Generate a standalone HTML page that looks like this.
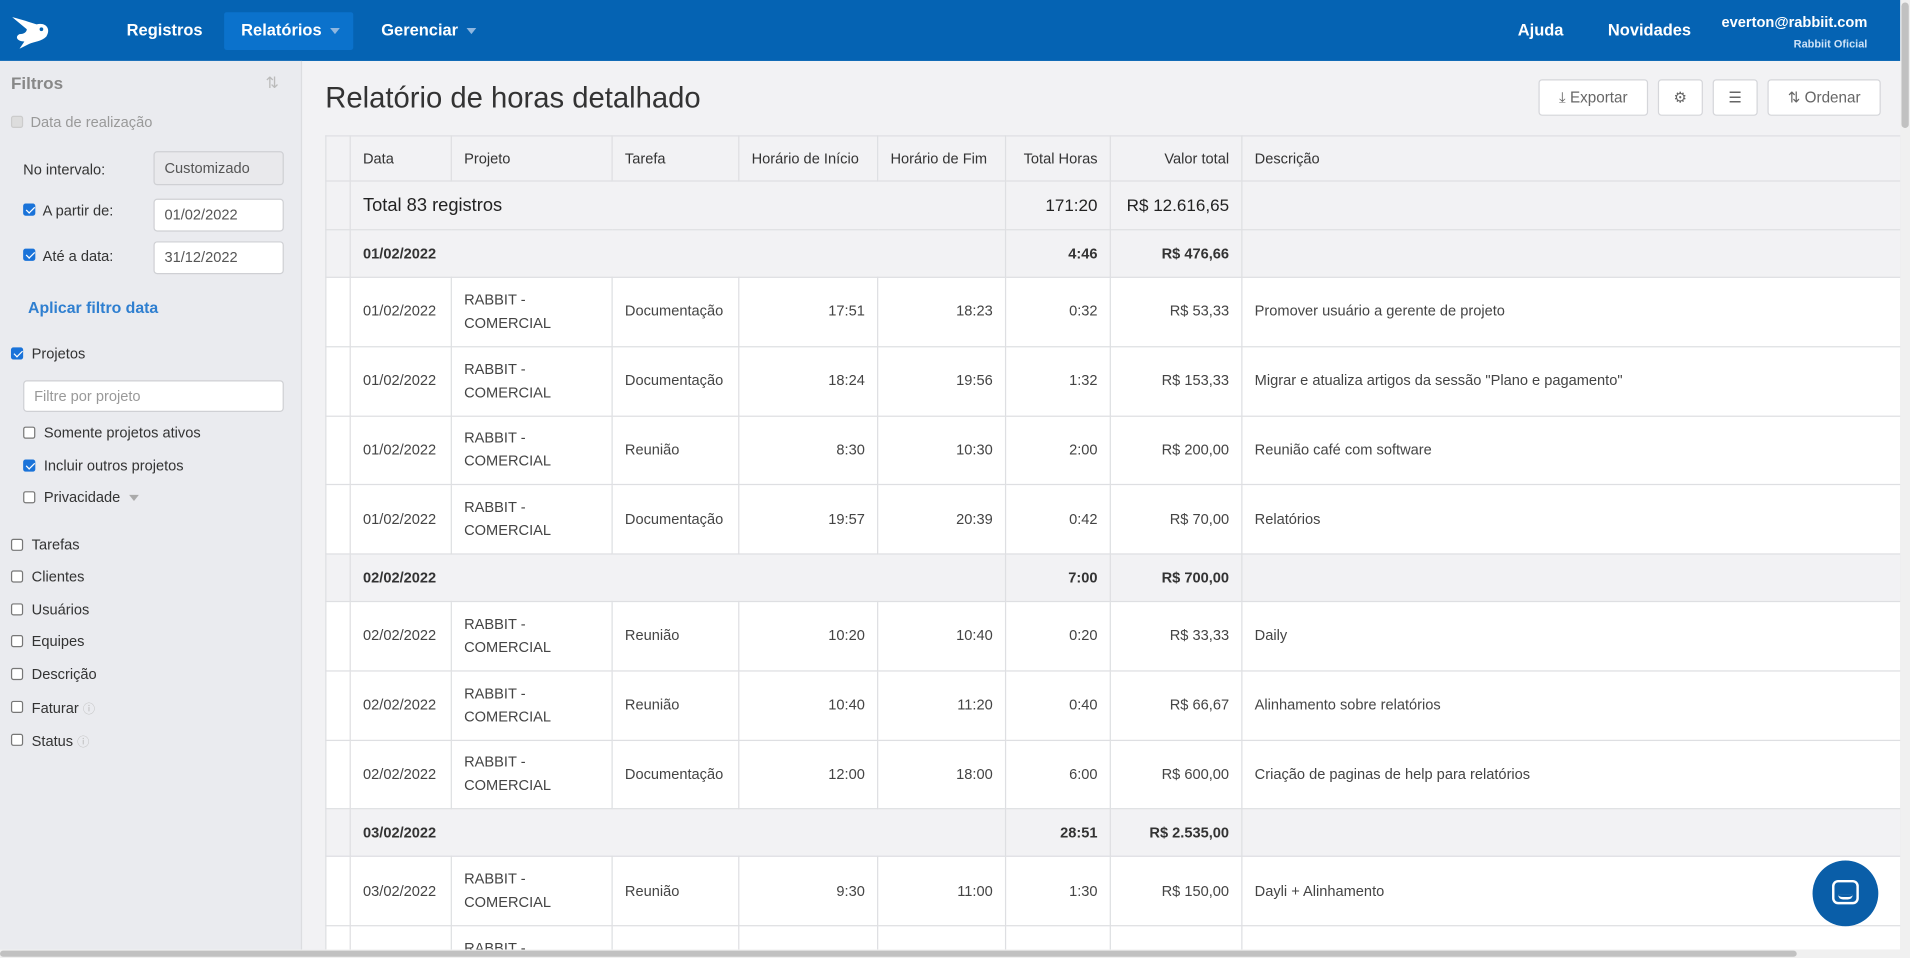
<!DOCTYPE html>
<html><head><meta charset="utf-8">
<style>
*{box-sizing:border-box;margin:0;padding:0}
html,body{width:1910px;height:958px;overflow:hidden;background:#f2f2f4}
body{font-family:"Liberation Sans",sans-serif;color:#333}
#w{position:absolute;left:0;top:0;width:1568px;height:786px;overflow:hidden;transform:scale(1.21811,1.21883);transform-origin:0 0;background:#f2f2f4}
.a{position:absolute}
#nav{left:0;top:0;width:1560px;height:50px;background:#0563b3}
.nl{color:#fff;font-weight:bold;font-size:13.5px;top:17px}
.caret{display:inline-block;border-left:4px solid transparent;border-right:4px solid transparent;border-top:5px solid #8fb7e0;margin-left:7px;vertical-align:middle}
#side{left:0;top:50px;width:248px;height:736px;background:#eaebef;border-right:1px solid #dcdde0}
.st{font-size:12px;color:#333}
.cb{display:inline-block;width:10px;height:10px;border:1px solid #777;background:#fff;border-radius:2px;position:absolute}
.cbc{background:#1a73d9;border-color:#1a73d9}
.cbc:after{content:"";position:absolute;left:2.5px;top:0px;width:3px;height:6px;border:solid #fff;border-width:0 1.5px 1.5px 0;transform:rotate(45deg)}
.inp{background:#fff;border:1px solid #cfd0d4;border-radius:3px;font-size:12px;color:#555;padding-left:8px;line-height:25px}
table{border-collapse:collapse;table-layout:fixed;font-size:12px;line-height:19px}
td{border:1px solid #dedfe2;padding:0 10px;background:#fff;color:#444;vertical-align:middle}
tr.h td{background:#f2f2f4;color:#333;height:37px}
tr.t td{background:#f2f2f4;height:40px;color:#222}
tr.g td{background:#f2f2f4;height:39px;font-weight:bold;color:#333}
tr.d td{height:56.75px}
.r{text-align:right}
.btn{background:#fff;border:1px solid #d5d6da;border-radius:3px;height:30px;top:65px;font-size:12.5px;color:#666;text-align:center;line-height:28px}
</style></head><body>
<div id="w">
<div id="nav" class="a">
 <svg class="a" style="left:8px;top:12px" width="34" height="28"><path d="M2 2 C10 4 16 6 22 8 C30 6 34 12 30 18 C26 22 20 22 16 24 L8 28 L12 22 C6 22 4 18 8 16 C12 16 14 14 14 12 Z" fill="#fff"/><circle cx="26" cy="12" r="1.5" fill="#0563b3"/></svg>
 <div class="a nl" style="left:104px">Registros</div>
 <div class="a" style="left:184px;top:10px;width:106px;height:31px;background:#0b72cc;border-radius:2px"></div>
 <div class="a nl" style="left:198px">Relatórios<span class="caret"></span></div>
 <div class="a nl" style="left:313px">Gerenciar<span class="caret"></span></div>
 <div class="a nl" style="left:1246px">Ajuda</div>
 <div class="a nl" style="left:1320px">Novidades</div>
 <div class="a" style="right:27px;top:11px;color:#fff;font-weight:bold;font-size:12px">everton@rabbiit.com</div>
 <div class="a" style="right:27px;top:31px;color:#cfe3f7;font-weight:bold;font-size:9px">Rabbiit Oficial</div>
</div>
<div id="side" class="a">
 <div class="a" style="left:9px;top:10px;font-size:14px;color:#888;font-weight:bold">Filtros</div>
 <div class="a" style="left:218px;top:10px;font-size:13px;color:#bbb">⇅</div>
 <span class="cb" style="left:9px;top:45px;background:#ddd;border-color:#ccc"></span>
 <div class="a st" style="left:25px;top:43px;color:#999">Data de realização</div>
 <div class="a st" style="left:19px;top:82px">No intervalo:</div>
 <div class="a inp" style="left:126px;top:74px;width:107px;height:28px;background:#e9e9ec;line-height:26px">Customizado</div>
 <span class="cb cbc" style="left:19px;top:117px"></span>
 <div class="a st" style="left:35px;top:116px">A partir de:</div>
 <div class="a inp" style="left:126px;top:113px;width:107px;height:27px">01/02/2022</div>
 <span class="cb cbc" style="left:19px;top:154px"></span>
 <div class="a st" style="left:35px;top:153px">Até a data:</div>
 <div class="a inp" style="left:126px;top:148px;width:107px;height:27px">31/12/2022</div>
 <div class="a" style="left:23px;top:195px;font-size:13px;color:#2f7fd0;font-weight:bold">Aplicar filtro data</div>
 <span class="cb cbc" style="left:9px;top:235px"></span>
 <div class="a st" style="left:26px;top:233px">Projetos</div>
 <div class="a inp" style="left:19px;top:262px;width:214px;height:26px;color:#999">Filtre por projeto</div>
 <span class="cb" style="left:19px;top:300px"></span>
 <div class="a st" style="left:36px;top:298px">Somente projetos ativos</div>
 <span class="cb cbc" style="left:19px;top:327px"></span>
 <div class="a st" style="left:36px;top:325px">Incluir outros projetos</div>
 <span class="cb" style="left:19px;top:353px"></span>
 <div class="a st" style="left:36px;top:351px">Privacidade<span class="caret" style="border-top-color:#aaa"></span></div>
 <span class="cb" style="left:9px;top:392px"></span><div class="a st" style="left:26px;top:390px">Tarefas</div>
 <span class="cb" style="left:9px;top:418px"></span><div class="a st" style="left:26px;top:416px">Clientes</div>
 <span class="cb" style="left:9px;top:445px"></span><div class="a st" style="left:26px;top:443px">Usuários</div>
 <span class="cb" style="left:9px;top:471px"></span><div class="a st" style="left:26px;top:469px">Equipes</div>
 <span class="cb" style="left:9px;top:498px"></span><div class="a st" style="left:26px;top:496px">Descrição</div>
 <span class="cb" style="left:9px;top:525px"></span><div class="a st" style="left:26px;top:523px">Faturar <span style="color:#bbb;font-size:10px">ⓘ</span></div>
 <span class="cb" style="left:9px;top:552px"></span><div class="a st" style="left:26px;top:550px">Status <span style="color:#bbb;font-size:10px">ⓘ</span></div>
</div>
<div class="a" style="left:267px;top:67px;font-size:24px;color:#333">Relatório de horas detalhado</div>
<div class="a btn" style="left:1263px;width:90px">⤓ Exportar</div>
<div class="a btn" style="left:1361px;width:37px">⚙</div>
<div class="a btn" style="left:1406px;width:37px">☰</div>
<div class="a btn" style="left:1451px;width:93px">⇅ Ordenar</div>
<table class="a" style="left:267px;top:111px;width:1294px">
<colgroup><col style="width:20px"><col style="width:83px"><col style="width:132px"><col style="width:104px"><col style="width:114px"><col style="width:105px"><col style="width:86px"><col style="width:108px"><col></colgroup>
<tr class="h"><td></td><td>Data</td><td>Projeto</td><td>Tarefa</td><td>Horário de Início</td><td>Horário de Fim</td><td class="r">Total Horas</td><td class="r">Valor total</td><td>Descrição</td></tr>
<tr class="t"><td></td><td colspan="5" style="font-size:15px">Total 83 registros</td><td class="r" style="font-size:14px">171:20</td><td class="r" style="font-size:14px">R$ 12.616,65</td><td></td></tr>
<tr class="g"><td></td><td colspan="5">01/02/2022</td><td class="r">4:46</td><td class="r">R$ 476,66</td><td></td></tr>
<tr class="d"><td></td><td>01/02/2022</td><td>RABBIT -<br>COMERCIAL</td><td>Documentação</td><td class="r">17:51</td><td class="r">18:23</td><td class="r">0:32</td><td class="r">R$ 53,33</td><td>Promover usuário a gerente de projeto</td></tr>
<tr class="d"><td></td><td>01/02/2022</td><td>RABBIT -<br>COMERCIAL</td><td>Documentação</td><td class="r">18:24</td><td class="r">19:56</td><td class="r">1:32</td><td class="r">R$ 153,33</td><td>Migrar e atualiza artigos da sessão "Plano e pagamento"</td></tr>
<tr class="d"><td></td><td>01/02/2022</td><td>RABBIT -<br>COMERCIAL</td><td>Reunião</td><td class="r">8:30</td><td class="r">10:30</td><td class="r">2:00</td><td class="r">R$ 200,00</td><td>Reunião café com software</td></tr>
<tr class="d"><td></td><td>01/02/2022</td><td>RABBIT -<br>COMERCIAL</td><td>Documentação</td><td class="r">19:57</td><td class="r">20:39</td><td class="r">0:42</td><td class="r">R$ 70,00</td><td>Relatórios</td></tr>
<tr class="g"><td></td><td colspan="5">02/02/2022</td><td class="r">7:00</td><td class="r">R$ 700,00</td><td></td></tr>
<tr class="d"><td></td><td>02/02/2022</td><td>RABBIT -<br>COMERCIAL</td><td>Reunião</td><td class="r">10:20</td><td class="r">10:40</td><td class="r">0:20</td><td class="r">R$ 33,33</td><td>Daily</td></tr>
<tr class="d"><td></td><td>02/02/2022</td><td>RABBIT -<br>COMERCIAL</td><td>Reunião</td><td class="r">10:40</td><td class="r">11:20</td><td class="r">0:40</td><td class="r">R$ 66,67</td><td>Alinhamento sobre relatórios</td></tr>
<tr class="d"><td></td><td>02/02/2022</td><td>RABBIT -<br>COMERCIAL</td><td>Documentação</td><td class="r">12:00</td><td class="r">18:00</td><td class="r">6:00</td><td class="r">R$ 600,00</td><td>Criação de paginas de help para relatórios</td></tr>
<tr class="g"><td></td><td colspan="5">03/02/2022</td><td class="r">28:51</td><td class="r">R$ 2.535,00</td><td></td></tr>
<tr class="d"><td></td><td>03/02/2022</td><td>RABBIT -<br>COMERCIAL</td><td>Reunião</td><td class="r">9:30</td><td class="r">11:00</td><td class="r">1:30</td><td class="r">R$ 150,00</td><td>Dayli + Alinhamento</td></tr>
<tr class="d"><td></td><td></td><td>RABBIT -<br>COMERCIAL</td><td>Reunião</td><td></td><td></td><td></td><td></td><td></td></tr>
</table>
<div class="a" style="left:1488px;top:706px;width:54px;height:54px;border-radius:50%;background:#0a5ea8">
 <div class="a" style="left:16px;top:16px;width:22px;height:20px;border:2px solid #fff;border-radius:5px"></div>
 <div class="a" style="left:21px;top:28px;width:12px;height:4px;border-bottom:2px solid #fff;border-radius:0 0 6px 6px"></div>
</div>
<div class="a" style="left:1560px;top:0;width:8px;height:786px;background:#f0f0f0"><div class="a" style="left:1px;top:2px;width:6px;height:103px;background:#c1c1c1;border-radius:3px"></div></div>
<div class="a" style="left:0;top:779px;width:1560px;height:7px;background:#f0f0f0"><div class="a" style="left:0;top:1px;width:1475px;height:5px;background:#c1c1c1;border-radius:3px"></div></div>
</div>
</body></html>
